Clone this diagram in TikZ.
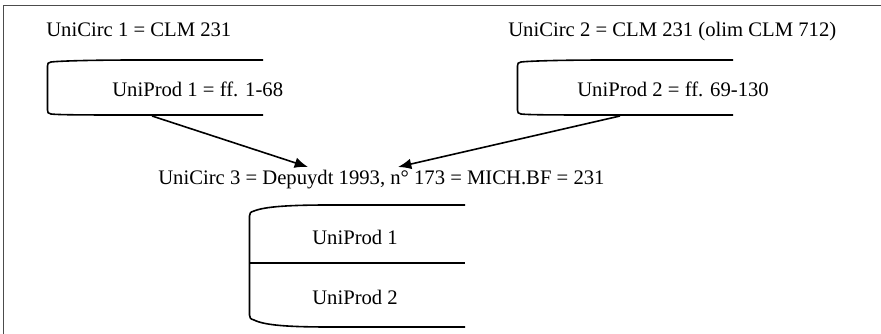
\documentclass[tikz,border=0pt]{standalone}
\usepackage{fontspec}
\setmainfont{Liberation Serif}
\usetikzlibrary{arrows.meta}

\begin{document}
\begin{tikzpicture}[x=0.75pt,y=-0.75pt,
        lbl/.style={anchor=base west,inner sep=0pt,font=\fontsize{15.5}{18}\selectfont},
        unit/.style={line width=1.2pt},
        link/.style={line width=1.2pt,-{Latex[length=10pt,width=8pt]}}]
        \useasboundingbox (0,0) rectangle (881,334);
        \draw[line width=1.1pt,black!70] (3.5,334) -- (3.5,5.5) -- (881,5.5);
        % circulation units and their production units
        \node[lbl] (circ1) at (46,37) {UniCirc 1 = CLM 231};
        \node[lbl] (circ2) at (508,37) {UniCirc 2 = CLM 231 (olim CLM 712)};
        \draw[unit] (263,60) -- (140,60) .. controls (90,60) and (60,61) .. (51,62) .. controls (48,62.5) and (47.5,63.5) .. (47.5,66) -- (47.5,110) .. controls (47.5,112.5) and (48,113.5) .. (51,114) .. controls (60,115) and (90,115) .. (140,115) -- (263,115);
        \draw[unit] (733,60) -- (610,60) .. controls (560,60) and (530,61) .. (521,62) .. controls (518,62.5) and (517.5,63.5) .. (517.5,66) -- (517.5,110) .. controls (517.5,112.5) and (518,113.5) .. (521,114) .. controls (530,115) and (560,115) .. (610,115) -- (733,115);
        \node[lbl] (prod1) at (112,97) {UniProd 1 = ff. 1-68};
        \node[lbl] (prod2) at (577,97) {UniProd 2 = ff. 69-130};
        % the joined codex
        \node[lbl] (circ3) at (158,185) {UniCirc 3 = Depuydt 1993, n° 173 = MICH.BF = 231};
        \draw[unit] (465,205) -- (330,205) .. controls (290,205) and (265,206.5) .. (254,211) .. controls (250.5,212) and (249.5,213) .. (249.5,216) -- (249.5,315) .. controls (249.5,318) and (250.5,319) .. (254,320) .. controls (265,325.5) and (290,327) .. (330,327) -- (465,327);
        \draw[unit] (249.5,263) -- (465,263);
        \node[lbl] (prod3a) at (312,245) {UniProd 1};
        \node[lbl] (prod3b) at (312,305) {UniProd 2};
        % links
        \coordinate (b1) at (152,116);
        \coordinate (b2) at (620,116);
        \coordinate (t1) at (308,167);
        \coordinate (t2) at (398,167);
        \draw[link] (b1) -- (t1);
        \draw[link] (b2) -- (t2);
\end{tikzpicture}
\end{document}
